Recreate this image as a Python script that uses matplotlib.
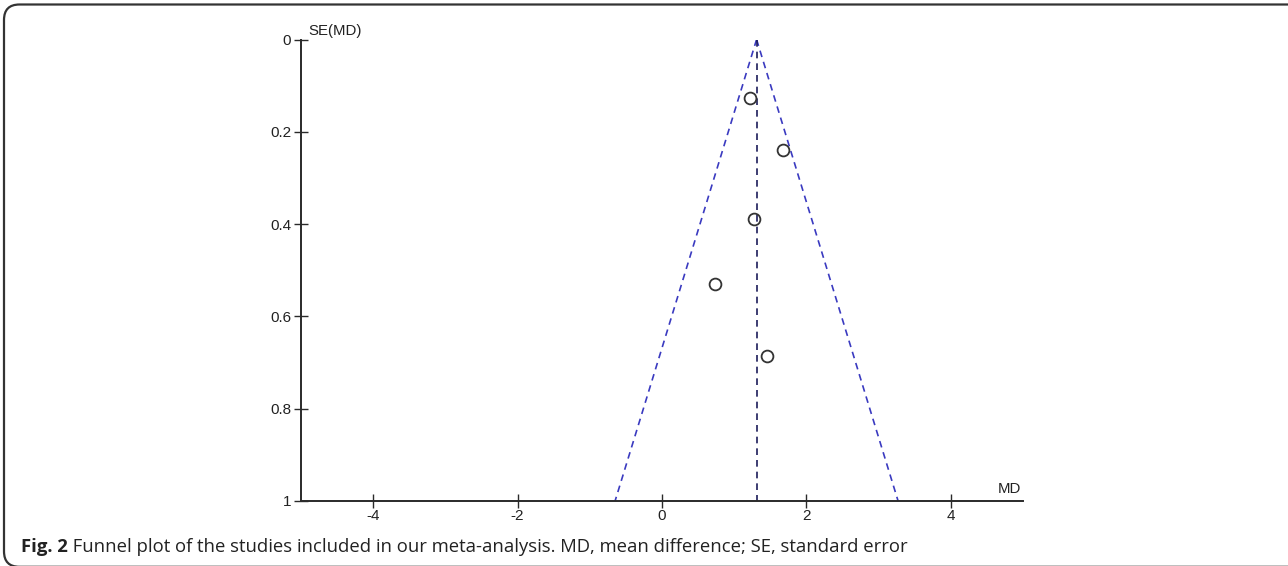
import matplotlib
matplotlib.use("Agg")
import matplotlib.pyplot as plt
from matplotlib.patches import FancyBboxPatch
import numpy as np

# Data
md_values = [1.22, 1.67, 1.28, 0.74, 1.46]
se_values = [0.126, 0.240, 0.390, 0.529, 0.686]
pooled_md = 1.31
x_ticks = [-4, -2, 0, 2, 4]
y_ticks = [0, 0.2, 0.4, 0.6, 0.8, 1]
y_tick_labels = ["0", "0.2", "0.4", "0.6", "0.8", "1"]
caption_bold = "Fig. 2"
caption_rest = " Funnel plot of the studies included in our meta-analysis. MD, mean difference; SE, standard error"

W, H = 1288, 566
fig = plt.figure(figsize=(W / 100, H / 100), dpi=100)

# Border frame (rounded, extends past right and bottom edges)
frame = FancyBboxPatch((4 / W, -0.8 / H), 1.2, (H - 3.7) / H,
                       boxstyle="round,pad=0,rounding_size=0.012",
                       transform=fig.transFigure, fill=False,
                       edgecolor="#333333", linewidth=1.6, mutation_aspect=W / H)
fig.patches.append(frame)

left, right = 301 / W, 1023 / W
top, bottom = 1 - 39.5 / H, 1 - 501 / H
ax = fig.add_axes([left, bottom, right - left, top - bottom])
ax.set_xlim(-5, 5)
ax.set_ylim(1, 0)

for s in ["top", "right"]:
    ax.spines[s].set_visible(False)
for s in ["left", "bottom"]:
    ax.spines[s].set_color("#2a2a2a")
    ax.spines[s].set_linewidth(1.4)

ax.set_xticks(x_ticks)
ax.set_xticklabels([str(t) for t in x_ticks])
ax.set_yticks(y_ticks)
ax.set_yticklabels(y_tick_labels)
ax.tick_params(axis="both", direction="inout", length=10, width=1.0, color="#2a2a2a",
               labelsize=11, labelcolor="#222222")
ax.tick_params(axis="x", pad=1)
ax.tick_params(axis="y", pad=2)
for lab in ax.get_xticklabels() + ax.get_yticklabels():
    lab.set_fontfamily("Liberation Sans")

# Funnel lines
se_line = np.array([0.0, 1.0])
ax.plot(pooled_md - 1.96 * se_line, se_line, linestyle=(0, (4, 3)), color="#3a3ac0", linewidth=1.2)
ax.plot(pooled_md + 1.96 * se_line, se_line, linestyle=(0, (4, 3)), color="#3a3ac0", linewidth=1.2)
ax.plot([pooled_md, pooled_md], [0, 1], linestyle=(0, (4, 3)), color="#1c1c5a", linewidth=1.2)

# Points
ax.plot(md_values, se_values, linestyle="none", marker="o", markersize=8.5,
        markerfacecolor="none", markeredgecolor="#333333", markeredgewidth=1.3)

# Axis titles
fig.text(308 / W, 1 - 31 / H, "SE(MD)", fontsize=10.8, family="Liberation Sans",
         color="#222222", va="center", ha="left")
fig.text(1021 / W, 1 - 489 / H, "MD", fontsize=10.8, family="Liberation Sans",
         color="#222222", va="center", ha="right")

# Caption
t1 = fig.text(21 / W, 1 - 547 / H, caption_bold, fontsize=13.3, family="Open Sans",
              fontweight="bold", color="#222222", va="center", ha="left")
fig.canvas.draw()
bb = t1.get_window_extent()
fig.text(bb.x1 / W, 1 - 547 / H, caption_rest, fontsize=13.3, family="Open Sans",
         color="#222222", va="center", ha="left")

fig.savefig("out.png", dpi=100)
